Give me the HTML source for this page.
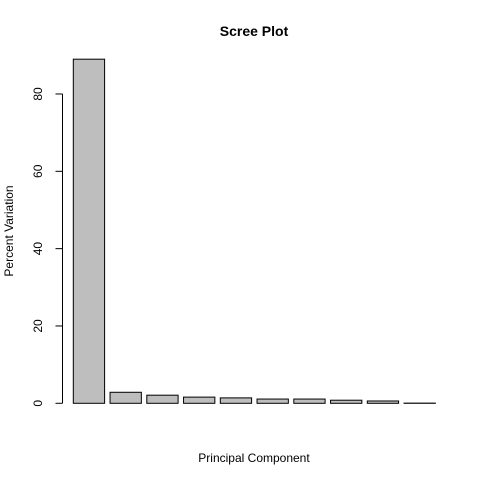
<!DOCTYPE html>
<html><head><meta charset="utf-8"><style>body{margin:0;background:#fff}svg{display:block}</style></head>
<body>
<svg id="chart" width="480" height="480" xmlns="http://www.w3.org/2000/svg" font-family="Liberation Sans, sans-serif">
<rect width="480" height="480" fill="#fff"/>
<text x="254" y="36" text-anchor="middle" font-weight="bold" font-size="14">Scree Plot</text>
<text x="254" y="462" text-anchor="middle" font-size="12">Principal Component</text>
<text transform="translate(13,231) rotate(-90)" text-anchor="middle" font-size="12">Percent Variation</text>
<g id="bars"></g>
<g id="yaxis"></g>
</svg>
<script>
const categories = ["PC1","PC2","PC3","PC4","PC5","PC6","PC7","PC8","PC9","PC10"];
const values = [89.0, 2.85, 2.1, 1.6, 1.4, 1.1, 1.1, 0.8, 0.6, 0.05];
const yTicks = [0, 20, 40, 60, 80];
const NS = "http://www.w3.org/2000/svg";
function y(v){ return 403.3 - v * 3.8665; }
function xLeft(i){ return 73.3 + i * 36.75; }
const bw = 31.3;
const bars = document.getElementById('bars');
values.forEach((v,i)=>{
  const r = document.createElementNS(NS,'rect');
  
  
  r.setAttribute('x', xLeft(i));
  r.setAttribute('y', y(v));
  r.setAttribute('width', bw);
  r.setAttribute('height', Math.max(0, y(0) - y(v)));
  r.setAttribute('fill', '#bebebe');
  r.setAttribute('stroke', '#000');
  r.setAttribute('stroke-width', '1');
  bars.appendChild(r);
});
const ax = document.getElementById('yaxis');
const line = document.createElementNS(NS,'line');


line.setAttribute('x1', 62.5); line.setAttribute('x2', 62.5);
line.setAttribute('y1', y(yTicks[0])); line.setAttribute('y2', y(yTicks[yTicks.length-1]));
line.setAttribute('stroke', '#000');
ax.appendChild(line);
yTicks.forEach(t=>{
  const tk = document.createElementNS(NS,'line');
  
  
  tk.setAttribute('x1', 55.5); tk.setAttribute('x2', 62.5);
  tk.setAttribute('y1', y(t)); tk.setAttribute('y2', y(t));
  tk.setAttribute('stroke', '#000');
  ax.appendChild(tk);
  const tx = document.createElementNS(NS,'text');
  
  
  tx.setAttribute('transform', 'translate(42,' + y(t) + ') rotate(-90)');
  tx.setAttribute('text-anchor', 'middle');
  tx.setAttribute('font-size', '12');
  tx.textContent = t;
  ax.appendChild(tx);
});
</script>
</body></html>
